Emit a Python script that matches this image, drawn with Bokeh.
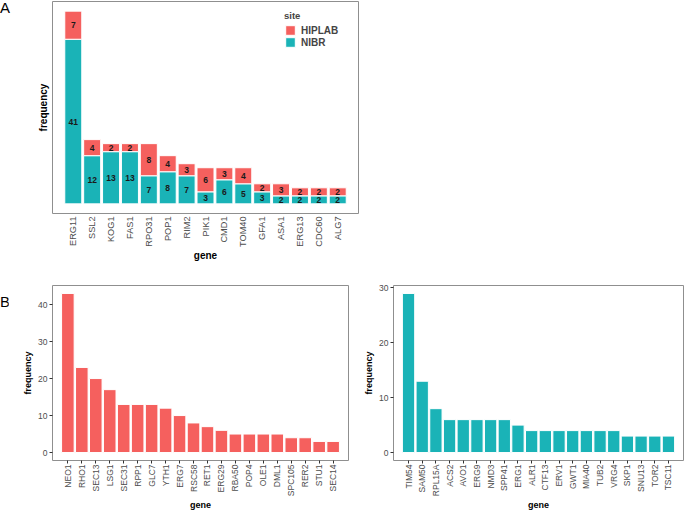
import math
import numpy as np
from bokeh.plotting import figure
from bokeh.models import (ColumnDataSource, FactorRange, Range1d, FixedTicker,
                          Legend, LegendItem, Div)
from bokeh.layouts import column, row
from bokeh.core.properties import value
from bokeh.embed import file_html
from bokeh.resources import INLINE

# ---------------- data ----------------
genes_a = ["ERG11", "SSL2", "KOG1", "FAS1", "RPO31", "POP1", "RIM2", "PIK1",
           "CMD1", "TOM40", "GFA1", "ASA1", "ERG13", "CDC60", "ALG7"]
nibr_a = [41, 12, 13, 13, 7, 8, 7, 3, 6, 5, 3, 2, 2, 2, 2]
hiplab_a = [7, 4, 2, 2, 8, 4, 3, 6, 3, 4, 2, 3, 2, 2, 2]

genes_b1 = ["NEO1", "RHO1", "SEC13", "LSG1", "SEC31", "RPP1", "GLC7", "YTH1",
            "ERG7", "RSC58", "RET1", "ERG29", "RBA50", "POP4", "OLE1", "DML1",
            "SPC105", "RER2", "STU1", "SEC14"]
freq_b1 = [43, 23, 20, 17, 13, 13, 13, 12, 10, 8, 7, 6, 5, 5, 5, 5, 4, 4, 3, 3]

genes_b2 = ["TIM54", "SAM50", "RPL15A", "ACS2", "AVO1", "ERG9", "NMD3", "SPP41",
            "ERG1", "ALR1", "CTF13", "ERV1", "GWT1", "MIA40", "TUB2", "VRG4",
            "SKP1", "SNU13", "TOR2", "TSC11"]
freq_b2 = [29, 13, 8, 6, 6, 6, 6, 6, 5, 4, 4, 4, 4, 4, 4, 4, 3, 3, 3, 3]

ticks_b1 = [0, 10, 20, 30, 40]
ticks_b2 = [0, 10, 20, 30]

RED = "#F5605E"
TEAL = "#1AB3B7"
FONT = "Liberation Sans"
GRAY_TXT = "#4D4D4D"
BORDER = "#8F8F8F"


def base_style(p):
    p.grid.visible = False
    p.outline_line_color = BORDER
    p.outline_line_width = 1
    p.background_fill_color = "white"
    p.border_fill_color = "white"
    for ax in (p.xaxis[0], p.yaxis[0]):
        ax.axis_line_color = None
        ax.minor_tick_line_color = None
        ax.major_label_text_font = FONT
        ax.major_label_text_color = GRAY_TXT
        ax.axis_label_text_font = FONT
        ax.axis_label_text_font_style = "bold"
        ax.axis_label_text_color = "black"
        ax.major_tick_line_color = "#333333"
        ax.major_tick_in = 0


def panel_letter(txt, width, height, pad_top):
    return Div(text=txt, width=width, height=height, margin=(0, 0, 0, 0),
               styles={"font-family": FONT, "font-size": "15px",
                       "line-height": "15px", "color": "black",
                       "padding-top": f"{pad_top}px"})


# ---------------- panel A ----------------
src_a = ColumnDataSource(dict(
    gene=genes_a, NIBR=nibr_a, HIPLAB=hiplab_a,
    y_n=np.array(nibr_a) / 2.0,
    y_h=np.array(nibr_a) + np.array(hiplab_a) / 2.0,
    t_n=[str(v) for v in nibr_a], t_h=[str(v) for v in hiplab_a],
))
tot_a = max(n + h for n, h in zip(nibr_a, hiplab_a))
pa = figure(x_range=FactorRange(factors=genes_a, range_padding=0.6,
                                range_padding_units="absolute"),
            y_range=Range1d(-0.05 * tot_a, 1.05 * tot_a),
            width=350, height=269, output_backend="svg", toolbar_location=None,
            min_border_left=42, min_border_right=2, min_border_top=1,
            min_border_bottom=56)
base_style(pa)
rs = pa.vbar_stack(["NIBR", "HIPLAB"], x="gene", width=0.9, source=src_a,
                   fill_color=[TEAL, RED], line_color="white", line_width=1)
pa.text(x="gene", y="y_n", text="t_n", source=src_a, text_align="center",
        text_baseline="middle", text_font=value(FONT), text_font_size="8.5px",
        text_font_style="bold", text_color="#1a1a1a")
pa.text(x="gene", y="y_h", text="t_h", source=src_a, text_align="center",
        text_baseline="middle", text_font=value(FONT), text_font_size="8.5px",
        text_font_style="bold", text_color="#1a1a1a")
pa.yaxis.ticker = FixedTicker(ticks=[])
pa.yaxis.major_tick_line_color = None
pa.yaxis.axis_label = "frequency"
pa.yaxis.axis_label_text_font_size = "10px"
pa.yaxis.axis_label_standoff = 4
pa.xaxis.major_tick_line_color = None
pa.xaxis.major_tick_out = 0
pa.xaxis.major_label_orientation = math.pi / 2
pa.xaxis.major_label_text_font_size = "9.2px"
pa.xaxis.major_label_standoff = 3
pa.xaxis.axis_label = "gene"
pa.xaxis.axis_label_text_font_size = "10px"
pa.xaxis.axis_label_standoff = 0

leg = Legend(items=[LegendItem(label="HIPLAB", renderers=[rs[1]]),
                    LegendItem(label="NIBR", renderers=[rs[0]])],
             title="site", location=(232, 165))
leg.title_text_font = FONT
leg.title_text_font_style = "bold"
leg.title_text_font_size = "9.5px"
leg.title_standoff = 3
leg.label_text_font = FONT
leg.label_text_font_style = "bold"
leg.label_text_font_size = "10px"
leg.glyph_height = 12
leg.glyph_width = 12
leg.label_height = 12
leg.label_standoff = 5
leg.spacing = 0
leg.padding = 0
leg.margin = 0
leg.border_line_color = None
leg.background_fill_alpha = 0
pa.add_layout(leg)


# ---------------- panel B ----------------
def bar_panel(genes, freq, ticks, color, width, mbl, mbr, mbt):
    top = max(freq)
    p = figure(x_range=FactorRange(factors=genes, range_padding=0.6,
                                   range_padding_units="absolute"),
               y_range=Range1d(-0.05 * top, 1.05 * top),
               width=width, height=244, output_backend="svg",
               toolbar_location=None, min_border_left=mbl,
               min_border_right=mbr, min_border_top=mbt, min_border_bottom=44)
    base_style(p)
    src = ColumnDataSource(dict(gene=genes, freq=freq))
    p.vbar(x="gene", top="freq", width=0.9, source=src, fill_color=color,
           line_color="white", line_width=1)
    p.yaxis.ticker = FixedTicker(ticks=ticks)
    p.yaxis.major_tick_out = 3
    p.yaxis.major_label_standoff = 2
    p.yaxis.major_label_text_font_size = "8.5px"
    p.yaxis.axis_label = "frequency"
    p.yaxis.axis_label_text_font_size = "9px"
    p.yaxis.axis_label_standoff = 2
    p.xaxis.major_tick_out = 3
    p.xaxis.major_label_orientation = math.pi / 2
    p.xaxis.major_label_text_font_size = "8.5px"
    p.xaxis.major_label_standoff = 1
    p.xaxis.axis_label = "gene"
    p.xaxis.axis_label_text_font_size = "9px"
    p.xaxis.axis_label_standoff = 1
    return p


pb1 = bar_panel(genes_b1, freq_b1, ticks_b1, RED, 344, 44, 4, 13)
pb2 = bar_panel(genes_b2, freq_b2, ticks_b2, TEAL, 332, 41, 1, 16)

div_a = panel_letter("A", 10, 20, 0)
div_b = panel_letter("B", 8, 46, 25)

layout = column(row(div_a, pa), row(div_b, pb1, pb2))
open("out.html", "w").write(file_html(layout, INLINE))
